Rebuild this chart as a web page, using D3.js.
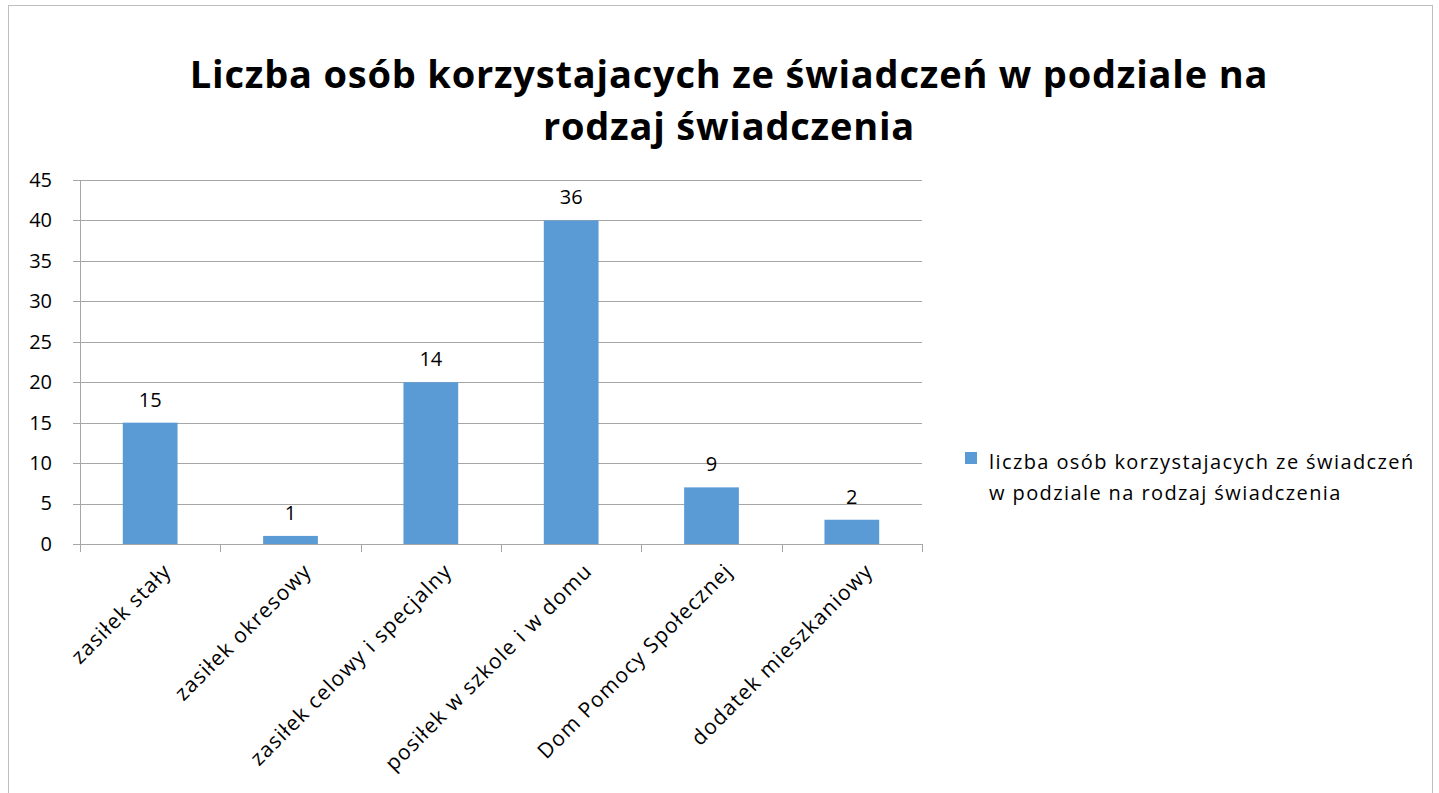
<!DOCTYPE html>
<html><head><meta charset="utf-8">
<script src="https://cdn.jsdelivr.net/npm/d3@7"></script>
<style>body{margin:0;background:#fff;}svg{display:block;}</style>
</head><body>
<script>
const categories = ["zasiłek stały","zasiłek okresowy","zasiłek celowy i specjalny","posiłek w szkole i w domu","Dom Pomocy Społecznej","dodatek mieszkaniowy"];
const barValues = [15, 1, 20, 40, 7, 3];
const labelValues = [15, 1, 14, 36, 9, 2];
const yTicks = [0,5,10,15,20,25,30,35,40,45];
const titleLines = ["Liczba osób korzystajacych ze świadczeń w podziale na","rodzaj świadczenia"];
const legendLines = ["liczba osób korzystajacych ze świadczeń","w podziale na rodzaj świadczenia"];

const W = 1439, H = 793;
const font = "'Open Sans', sans-serif";
const svg = d3.select("body").append("svg").attr("width", W).attr("height", H);
svg.append("rect").attr("x",8.5).attr("y",5.5).attr("width",1424).attr("height",800)
  .attr("fill","#fff").attr("stroke","#bfbfbf");

const x = d3.scaleBand().domain(categories).range([80, 922]).paddingInner(0.61).paddingOuter(0.305);
const y = d3.scaleLinear().domain([0,45]).range([544,180]);

svg.append("g").selectAll("text").data(titleLines).join("text")
  .attr("x", 729).attr("y",(d,i)=>88+i*52).attr("text-anchor","middle")
  .attr("font-family",font).attr("font-weight","bold").attr("font-size",38).attr("letter-spacing","0.8px").attr("fill","#000").text(d=>d);

// grid
const grid = svg.append("g");
grid.selectAll("line").data(yTicks).join("line")
  .attr("x1",73).attr("x2",922).attr("y1",d=>Math.round(y(d))+0.5).attr("y2",d=>Math.round(y(d))+0.5)
  .attr("stroke","#a6a6a6").attr("stroke-width",1);

// y axis
const yAxis = d3.axisLeft(y).tickValues(yTicks).tickSize(0).tickPadding(28);
const gy = svg.append("g").attr("transform","translate(80,0)").call(yAxis);
gy.select(".domain").attr("stroke","#a6a6a6");
gy.selectAll("text").attr("font-family",font).attr("font-size",20).attr("fill","#000");

// x axis
const xb = d3.scaleLinear().domain([0,categories.length]).range([80,922]);
const gx = svg.append("g");
gx.append("line").attr("x1",80).attr("x2",922).attr("y1",544.5).attr("y2",544.5).attr("stroke","#a6a6a6");
gx.selectAll("line.t").data(d3.range(categories.length+1)).join("line").attr("class","t")
  .attr("x1",d=>Math.round(xb(d))+0.5).attr("x2",d=>Math.round(xb(d))+0.5).attr("y1",544).attr("y2",552)
  .attr("stroke","#a6a6a6");
gx.selectAll("text").data(categories).join("text")
  .attr("transform",d=>`translate(${x(d)+x.bandwidth()/2+12},${562}) rotate(-45)`)
  .attr("text-anchor","end").attr("dy","0.7em").attr("letter-spacing","1.2px")
  .attr("font-family",font).attr("font-size",21).attr("fill","#000").text(d=>d);

// bars
svg.append("g").selectAll("rect").data(categories).join("rect")
  .attr("x",d=>x(d)).attr("width",x.bandwidth())
  .attr("y",(d,i)=>y(barValues[i])).attr("height",(d,i)=>y(0)-y(barValues[i]))
  .attr("fill","#5b9bd5");

// data labels
svg.append("g").selectAll("text").data(categories).join("text")
  .attr("x",d=>x(d)+x.bandwidth()/2).attr("y",(d,i)=>y(barValues[i])-16)
  .attr("text-anchor","middle").attr("font-family",font).attr("font-size",20).attr("fill","#000")
  .text((d,i)=>labelValues[i]);

// legend
svg.append("rect").attr("x",965).attr("y",452).attr("width",12).attr("height",12).attr("fill","#5b9bd5");
svg.append("g").selectAll("text").data(legendLines).join("text")
  .attr("x",989).attr("y",(d,i)=>469+i*31).attr("font-family",font).attr("font-size",20).attr("letter-spacing","1.4px").attr("fill","#000").text(d=>d);
</script>
</body></html>
